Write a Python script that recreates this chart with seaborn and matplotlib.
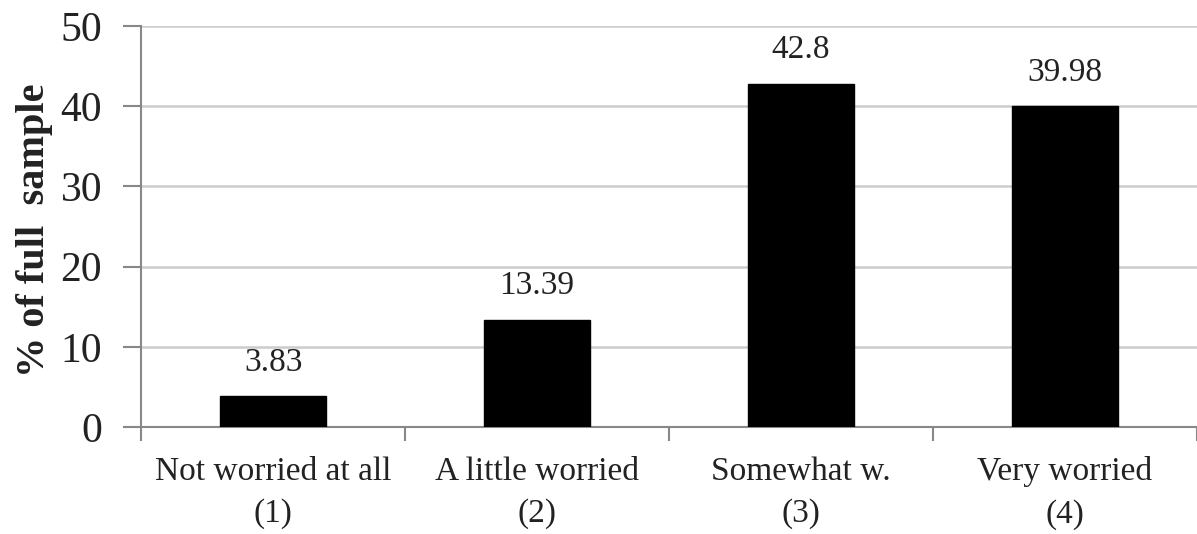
import matplotlib
matplotlib.use("Agg")
import matplotlib.pyplot as plt
import seaborn as sns
import pandas as pd

categories = ["Not worried at all\n(1)", "A little worried\n(2)", "Somewhat w.\n(3)", "Very worried\n(4)"]
values = [3.83, 13.39, 42.8, 39.98]
value_labels = ["3.83", "13.39", "42.8", "39.98"]
yticks = [0, 10, 20, 30, 40, 50]

sns.set_style("white")
plt.rcParams["font.family"] = ["Liberation Serif", "DejaVu Serif"]

df = pd.DataFrame({"category": categories, "value": values})

fig = plt.figure(figsize=(11.97, 5.34), dpi=100)
ax = fig.add_axes([141 / 1197, 1 - 427 / 534, 1 - 141 / 1197, (427 - 26) / 534])

sns.barplot(data=df, x="category", y="value", color="black", width=0.4,
            saturation=1, edgecolor="black", ax=ax, zorder=3)

# value labels above each bar
for i, (v, lab) in enumerate(zip(values, value_labels)):
    ax.annotate(lab, xy=(i, v), xytext=(0, 18.5), textcoords="offset points",
                ha="center", va="baseline", fontsize=24, color="#222222")

ax.set_ylim(0, 50)
ax.set_xlim(-0.5, 3.5)
ax.set_yticks(yticks)
ax.set_yticklabels([str(t) for t in yticks], fontsize=30, color="#222222")
ax.yaxis.grid(True, color="#cccccc", linewidth=1.8, zorder=0)
ax.set_axisbelow(True)

# category boundary ticks on the x axis, labels centred under the bars
ax.set_xticks([-0.5, 0.5, 1.5, 2.5, 3.5], minor=False)
ax.set_xticklabels([""] * 5)
ax.set_xticks([0, 1, 2, 3], minor=True)
ax.set_xticklabels(categories, minor=True, fontsize=24, color="#222222", linespacing=1.5)
ax.tick_params(axis="x", which="major", bottom=True, length=10, width=1.5,
               color="#888888", direction="out")
ax.tick_params(axis="x", which="minor", bottom=True, length=0, pad=21)
ax.tick_params(axis="y", left=True, length=13, width=1.5, color="#888888",
               direction="out", pad=15)

for side in ["top", "right"]:
    ax.spines[side].set_visible(False)
for side in ["left", "bottom"]:
    ax.spines[side].set_color("#888888")
    ax.spines[side].set_linewidth(1.5)

ax.set_xlabel("")
ax.set_ylabel("")
fig.text(35 / 1197, 1 - 230 / 534, "% of full  sample", rotation=90, ha="center",
         va="center", fontsize=29, fontweight="bold", color="#222222")

fig.savefig("out.png", dpi=100, facecolor="white")
